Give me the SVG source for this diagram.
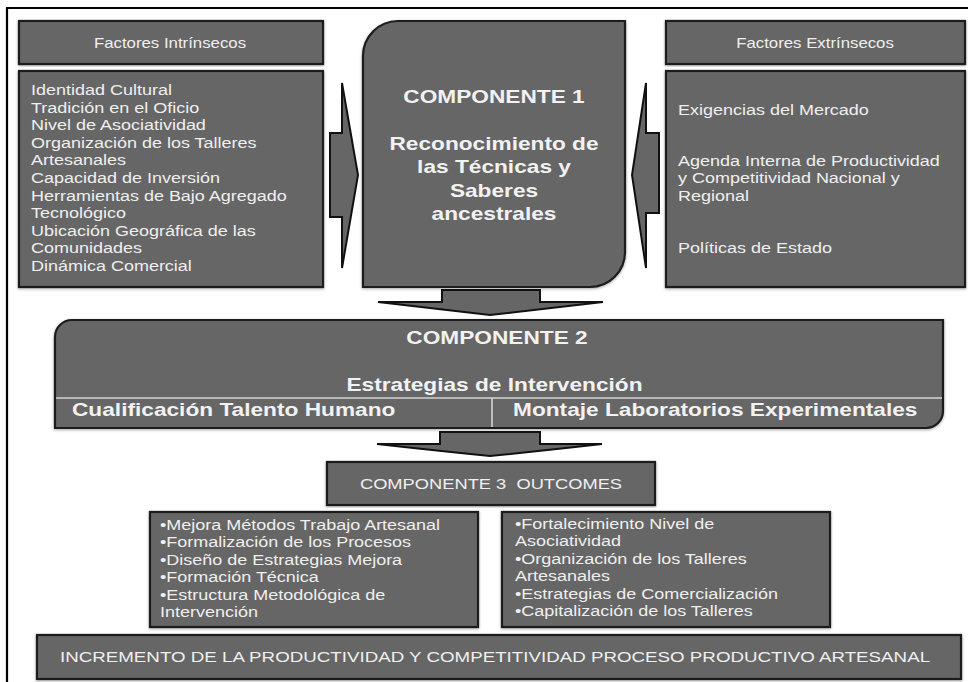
<svg xmlns="http://www.w3.org/2000/svg" width="968" height="682" viewBox="0 0 968 682">
<defs>
<filter id="sh" x="-5%" y="-5%" width="110%" height="110%">
<feDropShadow dx="0" dy="1" stdDeviation="1.6" flood-color="#000" flood-opacity="0.35"/>
</filter>
</defs>
<style>
.box{fill:#666666;stroke:#1c1c1c;stroke-width:2.2;filter:url(#sh)}
.arr{fill:#666666;stroke:#111;stroke-width:2;stroke-linejoin:miter}
.t{font-family:"Liberation Sans",Arial,sans-serif;font-size:15px;fill:#efefef}
.h{font-family:"Liberation Sans",Arial,sans-serif;font-size:14px;fill:#efefef}
.b{font-family:"Liberation Sans",Arial,sans-serif;font-size:18px;font-weight:bold;fill:#f2f2f2}
.div{stroke:#d4d4d4;stroke-width:1.6;fill:none}
</style>
<rect width="968" height="682" fill="#ffffff"/>
<path d="M7,682 L7,8 L968,8" fill="none" stroke="#000" stroke-width="2.2"/>

<g id="connectors">
<path class="arr" d="M330,133 L342,133 L342,83 L358,175 L342,268 L342,217 L330,217 Z"/>
<path class="arr" d="M659,133 L646,133 L646,83 L632,175 L646,268 L646,213 L659,213 Z"/>
<path class="arr" d="M442,290 L540,290 L540,302 L603,302 Q540,309 490,315 Q440,309 378,302 L442,302 Z"/>
<path class="arr" d="M440,432 L540,432 L540,444 L602,444 Q540,451 490,456 Q440,451 377,444 L440,444 Z"/>
</g>

<g id="factores-intrinsecos-titulo">
<rect class="box" x="19" y="21" width="304" height="43"/>
<g transform="translate(170,0) scale(1.2,1)"><text class="h" x="0" y="48" text-anchor="middle">Factores Intrínsecos</text></g>
</g>

<g id="factores-intrinsecos">
<rect class="box" x="19" y="71" width="304" height="216"/>
<g transform="translate(31,0) scale(1.2,1)">
<text class="t" x="0" y="95">Identidad Cultural</text>
<text class="t" x="0" y="112.6">Tradición en el Oficio</text>
<text class="t" x="0" y="130.2">Nivel de Asociatividad</text>
<text class="t" x="0" y="147.8">Organización de los Talleres</text>
<text class="t" x="0" y="165.4">Artesanales</text>
<text class="t" x="0" y="183">Capacidad de Inversión</text>
<text class="t" x="0" y="200.6">Herramientas de Bajo Agregado</text>
<text class="t" x="0" y="218.2">Tecnológico</text>
<text class="t" x="0" y="235.8">Ubicación Geográfica de las</text>
<text class="t" x="0" y="253.4">Comunidades</text>
<text class="t" x="0" y="271">Dinámica Comercial</text>
</g>
</g>

<g id="componente-1">
<path class="box" d="M363,56 A35,35 0 0 1 398,21 L625,21 L625,252 A35,35 0 0 1 590,287 L363,287 Z"/>
<g transform="translate(494,0) scale(1.26,1)">
<text class="b" x="0" y="103" text-anchor="middle">COMPONENTE 1</text>
<text class="b" x="0" y="150" text-anchor="middle">Reconocimiento de</text>
<text class="b" x="0" y="173.5" text-anchor="middle">las Técnicas y</text>
<text class="b" x="0" y="197" text-anchor="middle">Saberes</text>
<text class="b" x="0" y="220" text-anchor="middle">ancestrales</text>
</g>
</g>

<g id="factores-extrinsecos-titulo">
<rect class="box" x="666" y="21" width="299" height="43"/>
<g transform="translate(815,0) scale(1.2,1)"><text class="h" x="0" y="48" text-anchor="middle">Factores Extrínsecos</text></g>
</g>

<g id="factores-extrinsecos">
<rect class="box" x="666" y="71" width="299" height="216"/>
<g transform="translate(678,0) scale(1.2,1)">
<text class="t" x="0" y="115">Exigencias del Mercado</text>
<text class="t" x="0" y="166">Agenda Interna de Productividad</text>
<text class="t" x="0" y="183.5">y Competitividad Nacional y</text>
<text class="t" x="0" y="201">Regional</text>
<text class="t" x="0" y="253">Políticas de Estado</text>
</g>
</g>

<g id="componente-2">
<path class="box" d="M55,337 A17,17 0 0 1 72,320 L943,320 L943,411 A17,17 0 0 1 926,428 L55,428 Z"/>
<path class="div" d="M56,398 L942,398 M492,398 L492,427"/>
<g transform="translate(497,0) scale(1.26,1)">
<text class="b" x="0" y="344" text-anchor="middle">COMPONENTE 2</text>
<text class="b" x="-2" y="391" text-anchor="middle">Estrategias de Intervención</text>
</g>
<g transform="translate(72,0) scale(1.26,1)"><text class="b" x="0" y="416">Cualificación Talento Humano</text></g>
<g transform="translate(513,0) scale(1.26,1)"><text class="b" x="0" y="416">Montaje Laboratorios Experimentales</text></g>
</g>

<g id="componente-3">
<rect class="box" x="327" y="462" width="328" height="43"/>
<g transform="translate(491,0) scale(1.22,1)"><text class="t" x="0" y="489" text-anchor="middle" style="white-space:pre">COMPONENTE 3  OUTCOMES</text></g>
</g>

<g id="outcomes-izquierda">
<rect class="box" x="150" y="512" width="328" height="115"/>
<g transform="translate(160,0) scale(1.2,1)">
<text class="t" x="0" y="530">•Mejora Métodos Trabajo Artesanal</text>
<text class="t" x="0" y="547.5">•Formalización de los Procesos</text>
<text class="t" x="0" y="565">•Diseño de Estrategias Mejora</text>
<text class="t" x="0" y="582.5">•Formación Técnica</text>
<text class="t" x="0" y="600">•Estructura Metodológica de</text>
<text class="t" x="0" y="617.5">Intervención</text>
</g>
</g>

<g id="outcomes-derecha">
<rect class="box" x="502" y="512" width="328" height="115"/>
<g transform="translate(515,0) scale(1.2,1)">
<text class="t" x="0" y="529">•Fortalecimiento Nivel de</text>
<text class="t" x="0" y="546.5">Asociatividad</text>
<text class="t" x="0" y="564">•Organización de los Talleres</text>
<text class="t" x="0" y="581.5">Artesanales</text>
<text class="t" x="0" y="599">•Estrategias de Comercialización</text>
<text class="t" x="0" y="616.5">•Capitalización de los Talleres</text>
</g>
</g>

<g id="resultado-final">
<rect class="box" x="37" y="635" width="924" height="44"/>
<g transform="translate(495,0) scale(1.25,1)"><text class="t" x="0" y="662.5" text-anchor="middle">INCREMENTO DE LA PRODUCTIVIDAD Y COMPETITIVIDAD PROCESO PRODUCTIVO ARTESANAL</text></g>
</g>
</svg>
